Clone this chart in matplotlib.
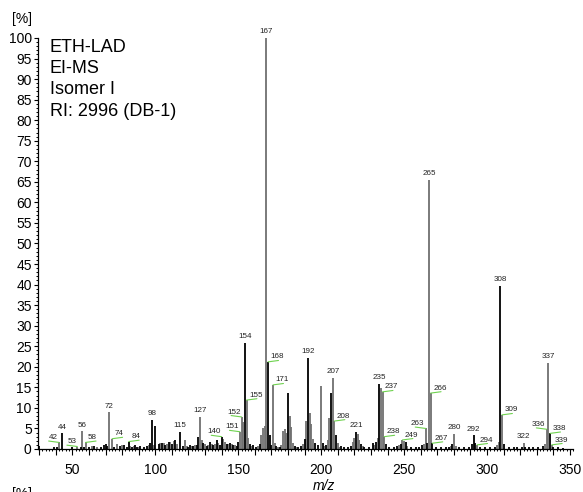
import matplotlib
matplotlib.use('Agg')
import matplotlib.pyplot as plt
from matplotlib.ticker import MultipleLocator, FuncFormatter

plt.rcParams['font.family'] = ['Liberation Sans', 'DejaVu Sans']

# EI-MS spectrum, relative abundance [%] (black and grey sticks)
mz_black = [30, 39, 41, 44, 50, 55, 57, 60, 63, 67, 69, 70, 71, 75, 79, 81, 83, 84, 86, 88,
            89, 91, 93, 95, 97, 98, 100, 102, 104, 106, 108, 110, 112, 115, 117, 120, 121,
            123, 125, 126, 129, 131, 133, 135, 137, 139, 140, 143, 145, 147, 149, 150, 154,
            157, 159, 161, 163, 168, 169, 170, 173, 175, 180, 184, 186, 188, 190, 192, 196,
            198, 201, 203, 206, 209, 212, 214, 216, 218, 221, 224, 226, 229, 231, 233, 235,
            239, 241, 244, 246, 248, 251, 254, 257, 259, 261, 264, 267, 269, 272, 275, 277,
            279, 283, 286, 289, 291, 292, 293, 296, 299, 302, 305, 308, 310, 313, 316, 318,
            321, 323, 325, 328, 331, 334, 338, 340, 343, 346]
ab_black = [0.8, 0.5, 0.6, 3.8, 0.4, 0.6, 0.5, 0.4, 0.8, 0.5, 0.9, 1.2, 0.7, 0.6, 0.8, 0.9, 0.6, 1.8, 0.6, 0.9,
            0.5, 0.7, 0.5, 0.8, 1.4, 7.1, 5.6, 1.2, 1.4, 1.0, 1.6, 1.3, 2.2, 4.1, 0.8, 0.6, 0.9,
            0.7, 1.0, 2.9, 1.5, 0.8, 1.7, 1.0, 2.2, 1.0, 3.0, 1.3, 1.5, 1.0, 0.8, 1.6, 25.9,
            1.2, 0.9, 0.6, 1.2, 21.2, 3.4, 1.0, 0.8, 0.6, 13.7, 0.8, 0.6, 0.8, 2.5, 22.1, 1.5,
            1.0, 1.4, 0.9, 13.7, 3.5, 0.7, 0.5, 0.6, 0.8, 4.1, 1.2, 0.6, 0.5, 1.5, 1.6, 15.8,
            1.2, 0.6, 0.5, 0.7, 1.3, 1.6, 0.6, 0.5, 0.6, 1.0, 1.5, 1.4, 0.6, 0.5, 0.5, 0.6,
            1.2, 0.5, 0.4, 0.5, 1.3, 3.3, 1.5, 0.5, 0.4, 0.5, 0.6, 39.6, 1.2, 0.4, 0.5, 0.4,
            0.6, 0.5, 0.4, 0.5, 0.4, 0.8, 3.8, 0.5, 0.4, 0.3]

mz_grey = [42, 53, 56, 58, 62, 65, 72, 74, 77, 80, 85, 87, 90, 96, 99, 103, 105, 107, 109, 111,
           113, 118, 119, 122, 124, 127, 128, 130, 132, 134, 136, 138, 141, 142, 144, 146, 148,
           151, 152, 153, 155, 156, 158, 162, 164, 165, 166, 167, 171, 172, 174, 176, 177, 178,
           179, 181, 182, 183, 185, 189, 191, 193, 194, 195, 200, 202, 204, 205, 207, 208, 210,
           211, 219, 220, 222, 223, 225, 232, 234, 236, 237, 238, 247, 249, 250, 252, 262, 263,
           265, 266, 278, 280, 281, 294, 306, 307, 309, 322, 335, 336, 337, 339]
ab_grey = [1.6, 0.6, 4.3, 1.6, 0.8, 0.5, 8.9, 2.5, 1.2, 0.9, 0.8, 0.7, 0.6, 0.9, 1.0, 1.4, 1.4, 1.2, 1.6, 1.9,
           1.1, 2.2, 0.7, 0.8, 0.9, 7.9, 2.2, 1.3, 1.0, 1.2, 1.1, 1.4, 2.5, 1.8, 1.2, 1.1, 0.9,
           4.2, 7.8, 6.5, 11.9, 2.6, 0.8, 0.7, 3.5, 5.1, 5.5, 100.0, 15.6, 1.5, 0.6, 1.0, 4.3, 4.9,
           4.0, 8.0, 5.4, 1.5, 0.5, 1.2, 6.8, 8.7, 6.1, 2.5, 15.3, 0.8, 2.2, 7.5, 17.3, 6.8, 1.5,
           0.6, 1.7, 2.7, 3.6, 2.2, 0.8, 1.0, 2.6, 14.8, 13.9, 3.0, 0.9, 2.2, 1.9, 0.8, 1.2, 5.0,
           65.5, 13.6, 0.8, 3.6, 0.8, 1.0, 1.0, 1.6, 8.3, 1.4, 1.2, 4.8, 21.0, 1.0]

# labelled peaks: above the stick, to the right with leader, to the left with leader
labels_top = [44, 56, 72, 98, 115, 127, 154, 167, 192, 207, 221, 235, 265, 280, 292, 308, 322, 337]
labels_right = [58, 74, 84, 155, 168, 171, 208, 237, 238, 249, 266, 267, 294, 309, 338, 339]
labels_left = [42, 53, 140, 151, 152, 263, 336]

info_lines = ['ETH-LAD', 'EI-MS', 'Isomer I', 'RI: 2996 (DB-1)']

peaks = dict(zip(mz_black, ab_black))
peaks.update(dict(zip(mz_grey, ab_grey)))

fig = plt.figure(figsize=(5.83, 4.92), dpi=100)
ax = fig.add_axes([38/583, 43/492, 535.3/583, 411/492])

ax.vlines(mz_grey, 0, ab_grey, colors='#707070', lw=1.3)
ax.vlines(mz_black, 0, ab_black, colors='#000000', lw=1.3)

green = '#6fd24f'
lab_fs = 5.8
for m in labels_top:
    ax.annotate(str(m), (m, peaks[m]), xytext=(0, 2.0), textcoords='offset points',
                ha='center', va='bottom', fontsize=lab_fs, color='#222222', annotation_clip=False)
for m in labels_right:
    ax.annotate(str(m), (m, peaks[m]), xytext=(1.8, 1.0), textcoords='offset points',
                ha='left', va='bottom', fontsize=lab_fs, color='#222222', annotation_clip=False)
    ax.annotate('', (m, peaks[m]), xytext=(7.5, 1.0), textcoords='offset points',
                arrowprops=dict(arrowstyle='-', color=green, lw=0.8, shrinkA=0, shrinkB=0))
for m in labels_left:
    ax.annotate(str(m), (m, peaks[m]), xytext=(-0.8, 1.0), textcoords='offset points',
                ha='right', va='bottom', fontsize=lab_fs, color='#222222', annotation_clip=False)
    ax.annotate('', (m, peaks[m]), xytext=(-7.5, 1.0), textcoords='offset points',
                arrowprops=dict(arrowstyle='-', color=green, lw=0.8, shrinkA=0, shrinkB=0))

ax.set_xlim(29.3, 352)
ax.set_ylim(0, 100)

ax.spines['top'].set_visible(False)
ax.spines['right'].set_visible(False)
ax.spines['left'].set_linewidth(0.9)
ax.spines['bottom'].set_linewidth(0.9)

ax.yaxis.set_major_locator(MultipleLocator(5))
ax.yaxis.set_minor_locator(MultipleLocator(1))
ax.xaxis.set_major_locator(MultipleLocator(10))
ax.xaxis.set_minor_locator(MultipleLocator(2))
ax.xaxis.set_major_formatter(FuncFormatter(lambda v, p: '%d' % v if v % 50 == 0 else ''))

ax.tick_params(axis='y', which='major', direction='out', length=3, width=0.8, pad=1.5, labelsize=10)
ax.tick_params(axis='y', which='minor', direction='out', length=1.6, width=0.7)
ax.tick_params(axis='x', which='major', direction='out', length=3, width=0.8, pad=7, labelsize=10)
ax.tick_params(axis='x', which='minor', direction='out', length=1.6, width=0.7)
for t in ax.xaxis.get_major_ticks():
    if t.get_loc() % 50 == 0:
        t.tick1line.set_markersize(4.5)

ax.set_xlabel('m/z', style='italic', fontsize=10)
ax.xaxis.set_label_coords(0.534, -0.072)

ax.text(0.0224, 0.998, '\n'.join(info_lines), transform=ax.transAxes, ha='left', va='top',
        fontsize=13, linespacing=1.33)

fig.text(12/583, 1 - 12/492, '[%]', ha='left', va='top', fontsize=10)
fig.text(12/583, 5/492, '[%]', ha='left', va='top', fontsize=10)

fig.savefig('out.png', dpi=100)
